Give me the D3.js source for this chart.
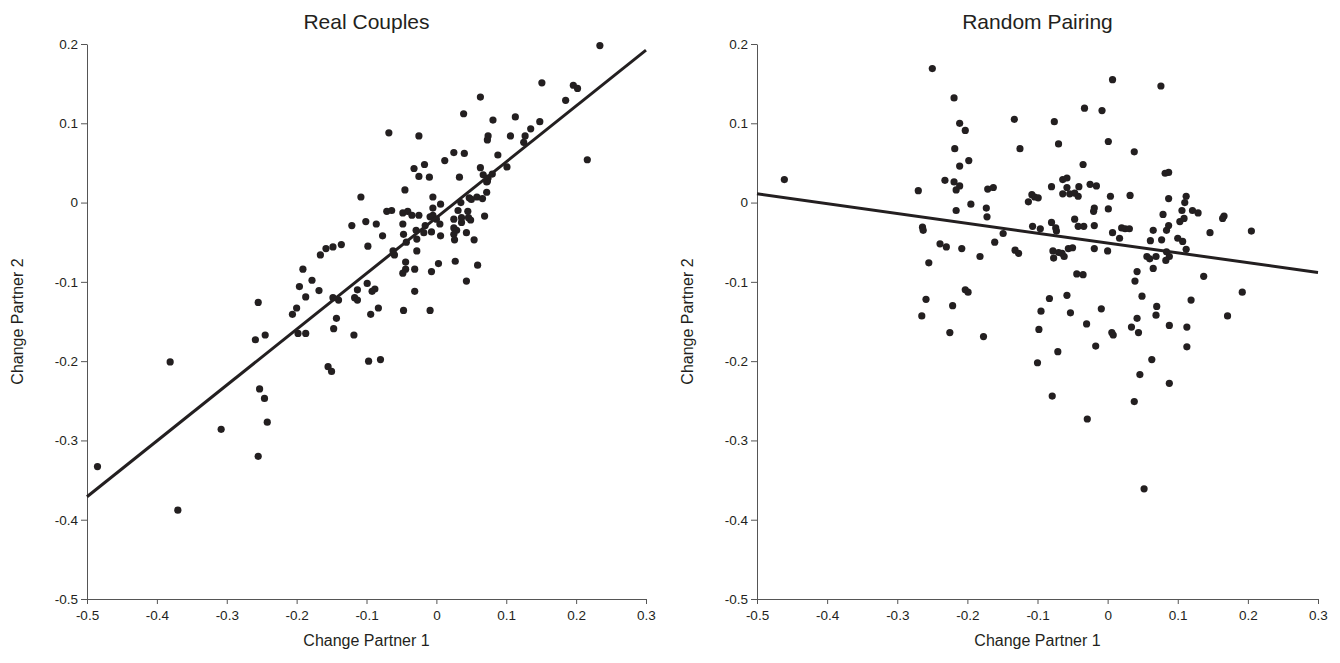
<!DOCTYPE html>
<html>
<head>
<meta charset="utf-8">
<script src="https://cdn.jsdelivr.net/npm/d3@7"></script>
<style>
  body { margin: 0; background: #fff; }
  text { font-family: "Liberation Sans", Arial, sans-serif; fill: #231f20; }
</style>
</head>
<body>
<svg id="chart" width="1340" height="663"></svg>
<script>
// axis ticks (same for both panels)
const xTicks = [-0.5, -0.4, -0.3, -0.2, -0.1, 0, 0.1, 0.2, 0.3];
const yTicks = [0.2, 0.1, 0, -0.1, -0.2, -0.3, -0.4, -0.5];

// [change partner 1, change partner 2]
const realCouples = [
  [-0.255,-0.126],[-0.187,-0.119],[-0.200,-0.133],[-0.206,-0.141],[-0.245,-0.167],[-0.259,-0.173],
  [-0.198,-0.165],[-0.187,-0.165],[-0.381,-0.201],[-0.253,-0.235],[-0.246,-0.247],[-0.242,-0.277],
  [-0.308,-0.286],[-0.255,-0.320],[-0.485,-0.333],[-0.370,-0.388],
  [-0.108,0.007],[-0.071,-0.011],[-0.064,-0.010],[-0.048,-0.013],[-0.041,-0.011],[-0.035,-0.016],
  [-0.025,-0.016],[-0.121,-0.029],[-0.101,-0.024],[-0.086,-0.027],[-0.048,-0.027],[-0.077,-0.042],
  [-0.047,-0.040],[-0.029,-0.035],[-0.028,-0.046],[-0.043,-0.050],[-0.098,-0.055],[-0.136,-0.053],
  [-0.148,-0.056],[-0.158,-0.058],[-0.166,-0.066],[-0.062,-0.061],[-0.060,-0.066],[-0.028,-0.061],
  [-0.044,-0.075],[-0.031,-0.084],[-0.044,-0.084],[-0.048,-0.089],[-0.191,-0.084],[-0.178,-0.098],
  [-0.196,-0.106],[-0.168,-0.111],[-0.099,-0.102],[-0.113,-0.110],[-0.088,-0.109],[-0.092,-0.112],
  [-0.031,-0.112],[-0.148,-0.120],[-0.140,-0.123],[-0.117,-0.120],[-0.113,-0.123],[-0.083,-0.133],
  [-0.094,-0.141],[-0.047,-0.136],[-0.009,-0.136],[-0.143,-0.146],[-0.147,-0.159],[-0.118,-0.167],
  [-0.155,-0.207],[-0.150,-0.213],[-0.097,-0.200],[-0.080,-0.198],
  [-0.045,0.016],[-0.005,0.007],[0.006,-0.002],[-0.005,-0.007],[0.035,0.000],[0.047,0.006],
  [0.058,0.007],[0.066,0.005],[0.050,0.004],[0.072,0.013],[0.073,0.027],[0.031,-0.010],
  [0.045,-0.011],[0.069,-0.017],[-0.009,-0.018],[-0.005,-0.016],[0.000,-0.021],[0.005,-0.027],
  [0.025,-0.021],[0.036,-0.019],[0.036,-0.025],[0.046,-0.019],[0.049,-0.022],[-0.016,-0.029],
  [-0.018,-0.038],[-0.007,-0.037],[0.025,-0.032],[0.029,-0.035],[0.025,-0.040],[0.026,-0.047],
  [0.006,-0.042],[0.043,-0.038],[0.054,-0.047],[0.003,-0.077],[-0.007,-0.087],[0.027,-0.074],
  [0.059,-0.079],[0.043,-0.099],
  [0.234,0.198],[0.151,0.151],[0.196,0.148],[0.202,0.144],[0.185,0.129],[0.063,0.133],
  [0.039,0.112],[0.081,0.104],[0.113,0.108],[0.148,0.102],[0.135,0.093],[-0.025,0.084],
  [0.074,0.084],[0.073,0.079],[0.106,0.084],[0.127,0.084],[0.125,0.076],[0.216,0.054],
  [0.025,0.063],[0.040,0.062],[0.012,0.053],[0.088,0.060],[-0.032,0.043],[-0.017,0.048],
  [-0.025,0.033],[-0.010,0.032],[0.033,0.032],[0.063,0.044],[0.101,0.045],[0.067,0.035],
  [0.074,0.031],[0.080,0.036],[0.072,0.026],[-0.068,0.088]
];

const randomPairing = [
  [-0.250,0.169],[-0.461,0.029],[-0.270,0.015],[-0.264,-0.031],[-0.263,-0.035],[-0.255,-0.076],
  [-0.259,-0.122],[-0.265,-0.143],[0.007,0.155],[-0.219,0.132],[-0.211,0.100],[-0.203,0.091],
  [-0.133,0.105],[-0.076,0.102],[-0.033,0.119],[-0.008,0.116],[-0.218,0.068],[-0.125,0.068],
  [-0.070,0.074],[0.001,0.077],[-0.211,0.046],[-0.198,0.053],[-0.035,0.048],[-0.232,0.028],
  [-0.219,0.026],[-0.211,0.021],[-0.216,0.016],[-0.171,0.017],[-0.163,0.019],[-0.080,0.020],
  [-0.064,0.029],[-0.058,0.031],[-0.058,0.019],[-0.041,0.020],[-0.025,0.023],[-0.016,0.021],
  [-0.064,0.011],[-0.054,0.011],[-0.047,0.012],[-0.042,0.008],[0.004,0.008],[-0.108,0.010],
  [-0.104,0.007],[-0.099,0.006],[-0.113,0.001],[-0.195,-0.002],[-0.173,-0.007],[-0.172,-0.018],
  [-0.216,-0.010],[-0.019,-0.007],[-0.020,-0.011],[0.001,-0.008],[-0.047,-0.021],[-0.042,-0.030],
  [-0.034,-0.030],[-0.019,-0.029],[-0.107,-0.030],[-0.096,-0.033],[-0.080,-0.025],[-0.074,-0.032],
  [-0.073,-0.036],[-0.149,-0.039],[-0.161,-0.050],[0.007,-0.038],[0.020,-0.032],[-0.239,-0.052],
  [-0.230,-0.056],[-0.208,-0.058],[-0.182,-0.068],[-0.132,-0.060],[-0.127,-0.064],[-0.078,-0.061],
  [-0.070,-0.063],[-0.065,-0.064],[-0.077,-0.070],[-0.062,-0.068],[-0.056,-0.058],[-0.050,-0.057],
  [-0.019,-0.058],[0.000,-0.061],[-0.044,-0.090],[-0.035,-0.091],[-0.203,-0.110],[-0.199,-0.113],
  [-0.083,-0.121],[-0.058,-0.117],[-0.221,-0.130],[-0.095,-0.137],[-0.053,-0.139],[-0.009,-0.134],
  [-0.030,-0.153],[-0.225,-0.164],[-0.177,-0.169],[-0.098,-0.160],[0.006,-0.164],[0.008,-0.167],
  [0.076,0.147],[0.038,0.064],[0.082,0.037],[0.087,0.038],[0.032,0.009],[0.087,0.005],
  [0.112,0.008],[0.110,0.000],[0.079,-0.015],[0.106,-0.010],[0.121,-0.010],[0.129,-0.013],
  [0.166,-0.017],[0.164,-0.020],[0.103,-0.024],[0.109,-0.020],[0.087,-0.029],[0.084,-0.035],
  [0.025,-0.033],[0.031,-0.033],[0.017,-0.045],[0.065,-0.035],[0.146,-0.038],[0.205,-0.036],
  [0.061,-0.048],[0.077,-0.047],[0.100,-0.045],[0.107,-0.049],[0.112,-0.059],[0.084,-0.062],
  [0.088,-0.068],[0.083,-0.073],[0.056,-0.068],[0.060,-0.071],[0.069,-0.068],[0.065,-0.083],
  [0.042,-0.087],[0.039,-0.099],[0.137,-0.093],[0.192,-0.113],[0.049,-0.118],[0.119,-0.123],
  [0.070,-0.131],[0.069,-0.142],[0.171,-0.143],[0.042,-0.146],[0.088,-0.155],[0.113,-0.157],
  [0.034,-0.157],[0.044,-0.164],
  [-0.071,-0.188],[-0.017,-0.181],[-0.100,-0.202],[0.063,-0.198],[0.113,-0.182],[0.046,-0.217],
  [0.088,-0.228],[-0.079,-0.244],[0.038,-0.251],[-0.029,-0.273],[0.052,-0.361]
];

// fitted lines: [intercept, slope]
const realFit = [-0.019, 0.704];
const randomFit = [-0.051, -0.124];

const ink = "#231f20";
const svg = d3.select("#chart");

function fmt(d) {
  return d === 0 ? "0" : d.toFixed(1); // plain hyphen, like the original
}

function drawPanel(left, right, title, points, fit) {
  var top = 44, bottom = 599;

  var xScale = d3.scaleLinear().domain([-0.5, 0.3]).range([left, right]);
  var yScale = d3.scaleLinear().domain([-0.5, 0.2]).range([bottom, top]);

  var g = svg.append("g");

  //x axis
  var xAxis = d3.axisBottom(xScale).tickValues(xTicks).tickFormat(fmt).tickSize(5).tickSizeOuter(0);
  var gx = g.append("g").attr("transform", "translate(0," + bottom + ")").call(xAxis);

  //y axis
  var yAxis = d3.axisLeft(yScale).tickValues(yTicks).tickFormat(fmt).tickSize(6).tickSizeOuter(0);
  var gy = g.append("g").attr("transform", "translate(" + left + ",0)").call(yAxis);

  [gx, gy].forEach(a => {
    a.selectAll("path, line").attr("stroke", "#555").attr("stroke-width", 1);
    a.selectAll("text").style("font-size", "13.5px").attr("fill", ink)
      .style("font-family", "'Liberation Sans', Arial, sans-serif");
  });
  gx.selectAll("text").attr("dy", "0.95em");

  //points
  g.selectAll("circle.pt")
    .data(points)
    .enter()
    .append("circle")
    .attr("class", "pt")
    .attr("cx", d => xScale(d[0]))
    .attr("cy", d => yScale(d[1]))
    .attr("r", 3.6)
    .attr("fill", ink);

  //regression line
  var line = d3.line()
    .x(d => xScale(d))
    .y(d => yScale(fit[0] + fit[1] * d));
  g.append("path")
    .datum([-0.5, 0.3])
    .attr("d", line)
    .attr("fill", "none")
    .attr("stroke", ink)
    .attr("stroke-width", 3);

  //title
  g.append("text")
    .attr("x", (left + right) / 2)
    .attr("y", 29)
    .attr("text-anchor", "middle")
    .style("font-size", "21px")
    .text(title);

  // X Axis label
  g.append("text")
    .attr("x", (left + right) / 2)
    .attr("y", 646)
    .attr("text-anchor", "middle")
    .style("font-size", "16px")
    .text("Change Partner 1");

  // Y Axis label
  g.append("text")
    .attr("transform", "rotate(-90)")
    .attr("x", -(top + bottom) / 2)
    .attr("y", left - 64)
    .attr("text-anchor", "middle")
    .style("font-size", "16px")
    .text("Change Partner 2");
}

drawPanel(87, 646, "Real Couples", realCouples, realFit);
drawPanel(757, 1318, "Random Pairing", randomPairing, randomFit);
</script>
</body>
</html>
